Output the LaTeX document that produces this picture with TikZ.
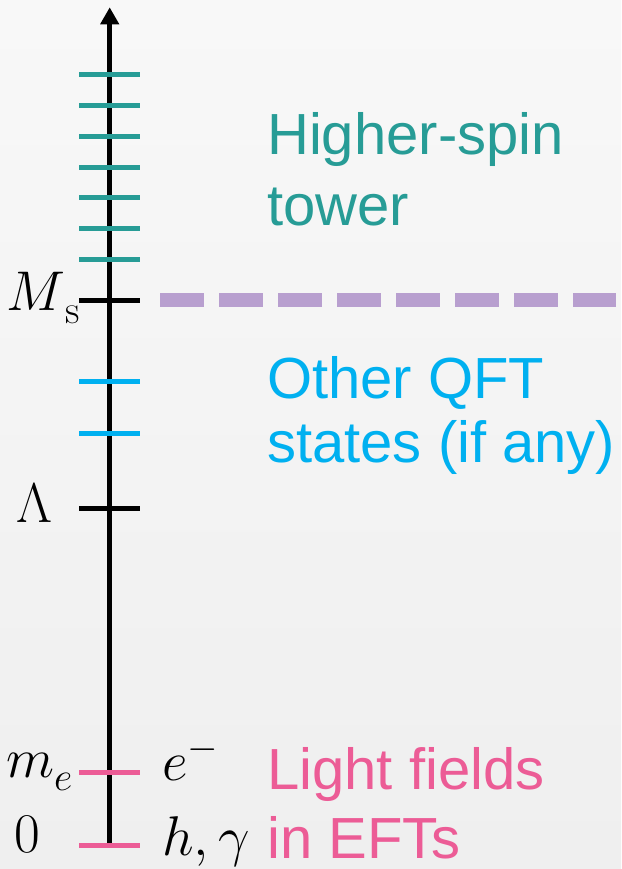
\RequirePackage{fix-cm}
\documentclass[tikz,border=0pt]{standalone}
\usepackage{fontspec}
\newfontfamily\arialfont{Liberation Sans}
\usetikzlibrary{arrows.meta}
\definecolor{bgtop}{HTML}{F8F8F8}
\definecolor{bgbot}{HTML}{EFEFEF}
\definecolor{tealc}{HTML}{279C96}
\definecolor{bluec}{HTML}{00B0F0}
\definecolor{pinkc}{HTML}{EC5C96}
\definecolor{purplec}{HTML}{B89FCF}
\newcommand{\mysub}[1]{\raisebox{-13pt}{\fontsize{40}{40}\selectfont$#1$}}
\tikzset{
  x=1pt, y=1pt,
  axisline/.style={line width=4.5pt, black},
  tickmark/.style={line width=5pt},
  bigtext/.style={font=\arialfont\fontsize{58}{64}\selectfont, anchor=base west, inner sep=0pt},
  mathlabel/.style={font=\fontsize{56}{60}\selectfont, anchor=base west, inner sep=0pt, text=black},
}
\begin{document}
\begin{tikzpicture}
  \shade[top color=bgtop, bottom color=bgbot] (0,0) rectangle (621,-869);
  \useasboundingbox (0,0) rectangle (621,-869);

  % axis
  \coordinate (axisbot) at (109.7,-845);
  \coordinate (axistop) at (109.7,-7.3);
  \draw[axisline, -{Triangle[length=17pt 0 0,width=18pt 0 0]}] (axisbot) -- (axistop);

  % higher-spin tower ticks
  \foreach \yy in {75,106,137,168,197,228,259}
    \draw[tickmark, tealc] (79,-\yy) -- (140,-\yy);
  % M_s tick
  \draw[tickmark, black] (79,-300) -- (140,-300);
  % other QFT ticks
  \foreach \yy in {381,433}
    \draw[tickmark, bluec] (79,-\yy) -- (140,-\yy);
  % Lambda tick
  \draw[tickmark, black] (79,-508) -- (140,-508);
  % light field ticks
  \draw[tickmark, pinkc] (79,-772) -- (140,-772);
  \draw[tickmark, pinkc] (79,-845) -- (140,-845);

  % dashed string-scale line
  \coordinate (dashL) at (160,-300);
  \coordinate (dashR) at (616,-300);
  \draw[purplec, line width=14pt, dash pattern=on 44pt off 15pt] (dashL) -- (dashR);

  % left labels
  \node[mathlabel] (ms) at (6,-310) {$M$\mysub{\mathrm{s}}};
  \node[mathlabel] (lam) at (16,-522) {$\Lambda$};
  \node[mathlabel] (me) at (6,-777) {$m$\mysub{e}};
  \node[mathlabel] (zero) at (14,-852) {$0$};

  % right math labels
  \node[mathlabel] (elec) at (162,-780) {$e^-$};
  \node[mathlabel] (hg) at (162,-855) {$h,\gamma$};

  % texts
  \node[bigtext, text=tealc] (hs1) at (267,-155) {Higher-spin};
  \node[bigtext, text=tealc] (hs2) at (267,-225) {tower};
  \node[bigtext, text=bluec] (qf1) at (267,-398) {Other QFT};
  \node[bigtext, text=bluec] (qf2) at (267,-462) {states (if any)};
  \node[bigtext, text=pinkc] (lf1) at (267,-789) {Light fields};
  \node[bigtext, text=pinkc] (lf2) at (267,-858) {in EFTs};
\end{tikzpicture}
\end{document}
